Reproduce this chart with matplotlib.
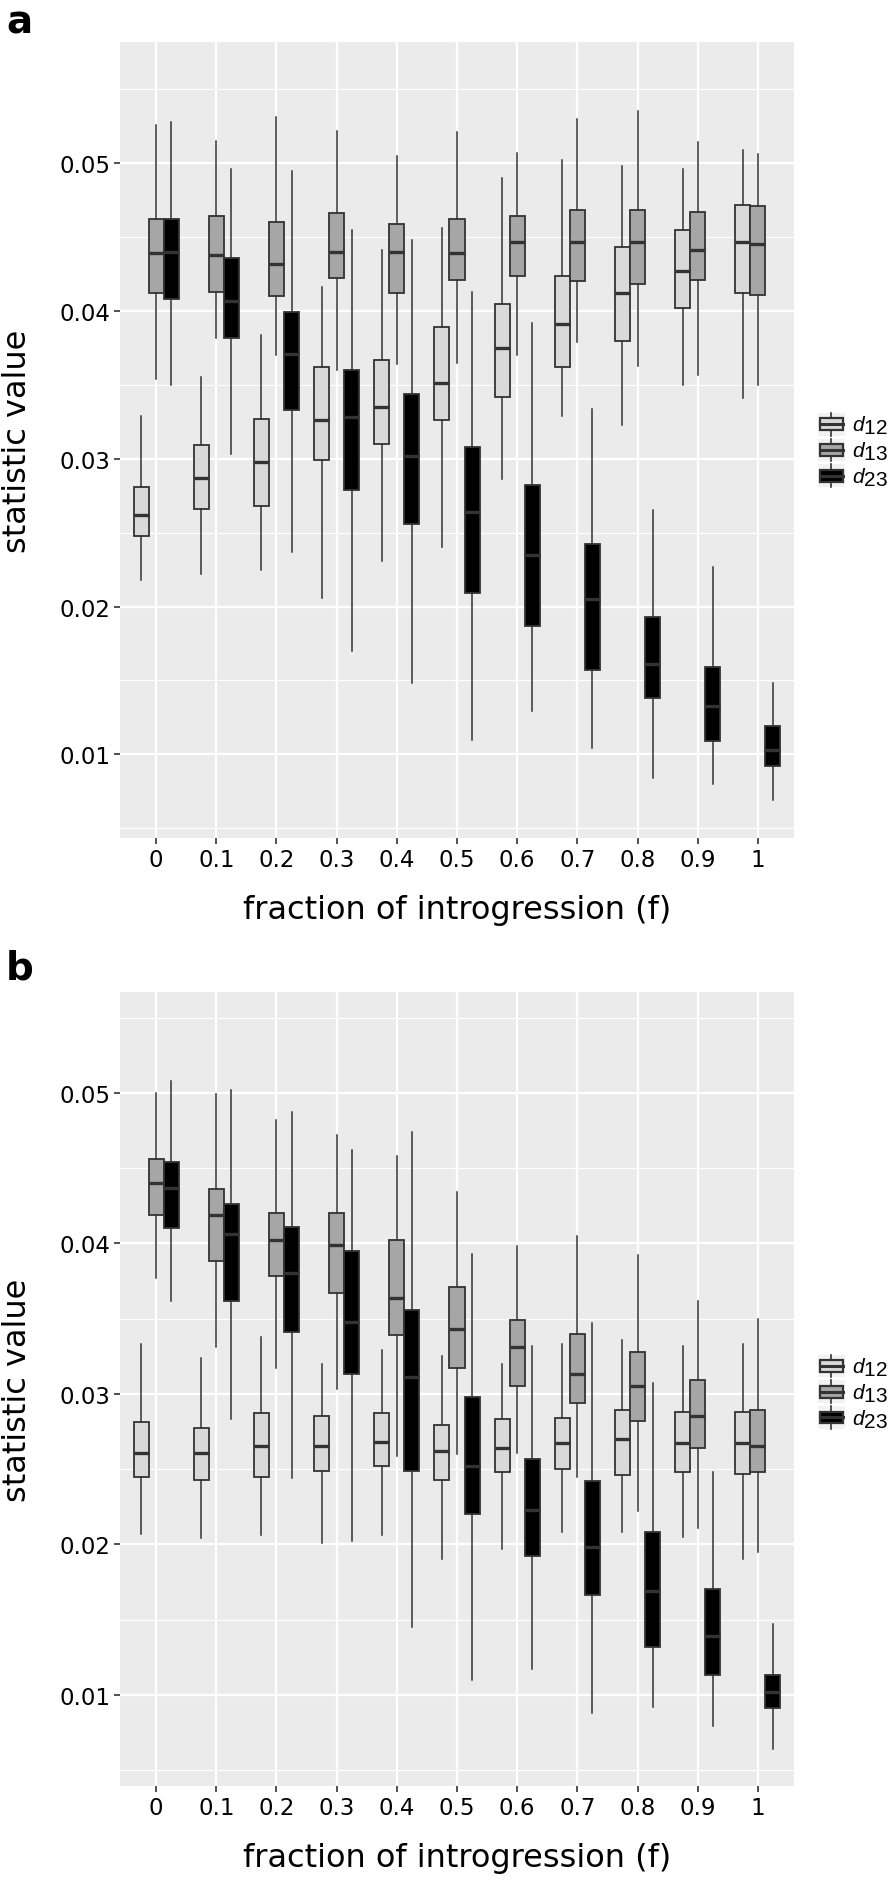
import matplotlib
matplotlib.use("Agg")
import matplotlib.pyplot as plt
import matplotlib._mathtext as mt
from matplotlib.legend_handler import HandlerBase
from matplotlib.patches import Patch, Rectangle
from matplotlib.lines import Line2D

# subscrito do mesmo tamanho da letra, como no plotmath do ggplot
mt.SHRINK_FACTOR = 1.0
plt.rcParams["mathtext.fontset"] = "custom"
plt.rcParams["mathtext.it"] = "Liberation Sans:italic"
plt.rcParams["mathtext.rm"] = "Liberation Sans"

# frações de introgressão (eixo x)
fracoes = ["0", "0.1", "0.2", "0.3", "0.4", "0.5", "0.6", "0.7", "0.8", "0.9", "1"]
series = ["d12", "d13", "d23"]
rotulos = [r"$\mathit{d_{12}}$", r"$\mathit{d_{13}}$", r"$\mathit{d_{23}}$"]
cores = ["#d9d9d9", "#a6a6a6", "#000000"]

# painel a
a_d12_lo = [0.0218, 0.0222, 0.0225, 0.0206, 0.0231, 0.0240, 0.0286, 0.0329, 0.0323, 0.0350, 0.0341]
a_d12_q1 = [0.0248, 0.0266, 0.0268, 0.0299, 0.0310, 0.0326, 0.0342, 0.0362, 0.0380, 0.0402, 0.0412]
a_d12_med = [0.0262, 0.0287, 0.0298, 0.0326, 0.0335, 0.0351, 0.0375, 0.0391, 0.0412, 0.0427, 0.0447]
a_d12_q3 = [0.0281, 0.0309, 0.0327, 0.0362, 0.0367, 0.0389, 0.0405, 0.0424, 0.0443, 0.0455, 0.0472]
a_d12_hi = [0.0329, 0.0355, 0.0384, 0.0416, 0.0441, 0.0456, 0.0490, 0.0502, 0.0498, 0.0496, 0.0509]

a_d13_lo = [0.0354, 0.0382, 0.0370, 0.0360, 0.0364, 0.0365, 0.0370, 0.0379, 0.0363, 0.0357, 0.0350]
a_d13_q1 = [0.0412, 0.0413, 0.0410, 0.0422, 0.0412, 0.0421, 0.0424, 0.0420, 0.0418, 0.0421, 0.0411]
a_d13_med = [0.0439, 0.0438, 0.0432, 0.0440, 0.0440, 0.0439, 0.0447, 0.0447, 0.0447, 0.0441, 0.0445]
a_d13_q3 = [0.0462, 0.0464, 0.0460, 0.0466, 0.0459, 0.0462, 0.0464, 0.0468, 0.0468, 0.0467, 0.0471]
a_d13_hi = [0.0526, 0.0515, 0.0531, 0.0522, 0.0505, 0.0521, 0.0507, 0.0530, 0.0535, 0.0514, 0.0506]

a_d23_lo = [0.0350, 0.0303, 0.0237, 0.0170, 0.0148, 0.0110, 0.0129, 0.0104, 0.0084, 0.0080, 0.0069]
a_d23_q1 = [0.0408, 0.0382, 0.0333, 0.0279, 0.0256, 0.0209, 0.0187, 0.0157, 0.0138, 0.0109, 0.0092]
a_d23_med = [0.0440, 0.0407, 0.0371, 0.0328, 0.0302, 0.0264, 0.0235, 0.0205, 0.0161, 0.0133, 0.0103]
a_d23_q3 = [0.0462, 0.0436, 0.0399, 0.0360, 0.0344, 0.0308, 0.0282, 0.0242, 0.0193, 0.0159, 0.0119]
a_d23_hi = [0.0528, 0.0496, 0.0495, 0.0455, 0.0448, 0.0413, 0.0392, 0.0334, 0.0265, 0.0227, 0.0148]

# painel b
b_d12_lo = [0.0207, 0.0204, 0.0206, 0.0201, 0.0206, 0.0190, 0.0197, 0.0208, 0.0208, 0.0205, 0.0190]
b_d12_q1 = [0.0245, 0.0243, 0.0245, 0.0249, 0.0252, 0.0243, 0.0248, 0.0250, 0.0246, 0.0248, 0.0247]
b_d12_med = [0.0261, 0.0261, 0.0265, 0.0265, 0.0268, 0.0262, 0.0264, 0.0267, 0.0270, 0.0267, 0.0267]
b_d12_q3 = [0.0281, 0.0277, 0.0287, 0.0285, 0.0287, 0.0279, 0.0283, 0.0284, 0.0289, 0.0288, 0.0288]
b_d12_hi = [0.0333, 0.0324, 0.0338, 0.0320, 0.0329, 0.0325, 0.0320, 0.0333, 0.0336, 0.0332, 0.0333]

b_d13_lo = [0.0377, 0.0331, 0.0317, 0.0303, 0.0259, 0.0260, 0.0261, 0.0245, 0.0222, 0.0211, 0.0195]
b_d13_q1 = [0.0419, 0.0388, 0.0378, 0.0367, 0.0339, 0.0317, 0.0305, 0.0294, 0.0282, 0.0264, 0.0248]
b_d13_med = [0.0440, 0.0419, 0.0402, 0.0399, 0.0364, 0.0343, 0.0331, 0.0313, 0.0305, 0.0285, 0.0265]
b_d13_q3 = [0.0456, 0.0436, 0.0420, 0.0420, 0.0402, 0.0371, 0.0349, 0.0340, 0.0328, 0.0309, 0.0289]
b_d13_hi = [0.0500, 0.0499, 0.0482, 0.0472, 0.0458, 0.0434, 0.0398, 0.0405, 0.0392, 0.0362, 0.0350]

b_d23_lo = [0.0362, 0.0283, 0.0244, 0.0202, 0.0145, 0.0110, 0.0117, 0.0088, 0.0092, 0.0079, 0.0064]
b_d23_q1 = [0.0410, 0.0362, 0.0341, 0.0313, 0.0249, 0.0220, 0.0192, 0.0166, 0.0132, 0.0113, 0.0091]
b_d23_med = [0.0437, 0.0406, 0.0380, 0.0348, 0.0311, 0.0252, 0.0223, 0.0198, 0.0169, 0.0139, 0.0102]
b_d23_q3 = [0.0454, 0.0426, 0.0411, 0.0395, 0.0356, 0.0298, 0.0257, 0.0242, 0.0208, 0.0170, 0.0113]
b_d23_hi = [0.0508, 0.0502, 0.0487, 0.0462, 0.0474, 0.0393, 0.0332, 0.0347, 0.0307, 0.0248, 0.0147]

yticks = [0.01, 0.02, 0.03, 0.04, 0.05]
ytick_labels = ["0.01", "0.02", "0.03", "0.04", "0.05"]
ylim_a = (0.00434, 0.0582)
ylim_b = (0.00394, 0.0567)

painel_a = [
    (a_d12_lo, a_d12_q1, a_d12_med, a_d12_q3, a_d12_hi),
    (a_d13_lo, a_d13_q1, a_d13_med, a_d13_q3, a_d13_hi),
    (a_d23_lo, a_d23_q1, a_d23_med, a_d23_q3, a_d23_hi),
]
painel_b = [
    (b_d12_lo, b_d12_q1, b_d12_med, b_d12_q3, b_d12_hi),
    (b_d13_lo, b_d13_q1, b_d13_med, b_d13_q3, b_d13_hi),
    (b_d23_lo, b_d23_q1, b_d23_med, b_d23_q3, b_d23_hi),
]

CINZA_LINHA = "#333333"
FUNDO = "#ebebeb"


class HandlerCaixa(HandlerBase):
    # desenha uma caixinha de boxplot na legenda, estilo ggplot
    def create_artists(self, legend, orig_handle, xdescent, ydescent, width, height, fontsize, trans):
        fundo = Rectangle((-xdescent, -ydescent), width, height, facecolor="#f2f2f2",
                          edgecolor="none", transform=trans)
        cx = -xdescent + width / 2
        bw = width * 0.84
        bh = height * 0.52
        y0 = -ydescent + (height - bh) / 2
        caixa = Rectangle((cx - bw / 2, y0), bw, bh, facecolor=orig_handle.get_facecolor(),
                          edgecolor=CINZA_LINHA, linewidth=1.6, transform=trans)
        mediana = Line2D([cx - bw / 2, cx + bw / 2], [y0 + bh / 2, y0 + bh / 2],
                         color=CINZA_LINHA, linewidth=2.2, transform=trans)
        bigode1 = Line2D([cx, cx], [-ydescent, y0], color=CINZA_LINHA,
                         linewidth=1.2, transform=trans)
        bigode2 = Line2D([cx, cx], [y0 + bh, -ydescent + height], color=CINZA_LINHA,
                         linewidth=1.2, transform=trans)
        return [fundo, caixa, mediana, bigode1, bigode2]


def desenhar_painel(ax, dados, ylim, y_legenda):
    ax.set_facecolor(FUNDO)
    n = len(fracoes)
    largura = 0.25
    for k, (lo, q1, med, q3, hi) in enumerate(dados):
        stats = []
        for i in range(n):
            stats.append({"whislo": lo[i], "q1": q1[i], "med": med[i], "q3": q3[i],
                          "whishi": hi[i], "fliers": []})
        posicoes = [i + 1 + (k - 1) * largura for i in range(n)]
        ax.bxp(stats, positions=posicoes, widths=largura, patch_artist=True,
               showcaps=False, showfliers=False, manage_ticks=False,
               boxprops=dict(facecolor=cores[k], edgecolor=CINZA_LINHA, linewidth=1.3),
               medianprops=dict(color=CINZA_LINHA, linewidth=2.4, solid_capstyle="butt"),
               whiskerprops=dict(color=CINZA_LINHA, linewidth=1.1),
               zorder=3)

    ax.set_xlim(0.4, n + 0.6)
    ax.set_ylim(*ylim)
    ax.set_xticks(range(1, n + 1))
    ax.set_xticklabels(fracoes)
    ax.set_yticks(yticks)
    ax.set_yticklabels(ytick_labels)
    ax.set_yticks([0.005, 0.015, 0.025, 0.035, 0.045, 0.055], minor=True)
    ax.grid(True, which="major", color="white", linewidth=1.6, zorder=0)
    ax.grid(True, which="minor", axis="y", color="white", linewidth=0.8, zorder=0)
    ax.set_axisbelow(True)
    for s in ax.spines.values():
        s.set_visible(False)
    ax.tick_params(axis="both", which="major", length=4, width=1.2, color=CINZA_LINHA,
                   labelsize=16.5, labelcolor="black", pad=3)
    ax.tick_params(axis="both", which="minor", length=0)
    ax.set_xlabel("fraction of introgression (f)", fontsize=23, labelpad=17)
    ax.set_ylabel("statistic value", fontsize=23, labelpad=19)

    handles = [Patch(facecolor=c) for c in cores]
    ax.legend(handles, rotulos, handler_map={Patch: HandlerCaixa()}, loc="center left",
              bbox_to_anchor=(1.035, y_legenda), frameon=False, fontsize=15,
              handlelength=1.3, handleheight=1.3, handletextpad=0.35,
              labelspacing=0.1, borderaxespad=0, borderpad=0)


fig = plt.figure(figsize=(8.94, 18.81), dpi=100)
W, H = 894, 1881
ax_a = fig.add_axes([120 / W, 1 - 839 / H, 674 / W, 796 / H])
ax_b = fig.add_axes([120 / W, 1 - 1787 / H, 674 / W, 794 / H])

desenhar_painel(ax_a, painel_a, ylim_a, 0.487)
desenhar_painel(ax_b, painel_b, ylim_b, 0.496)

fig.text(6 / W, 1 - 4 / H, "a", fontsize=28, fontweight="bold", va="top", ha="left")
fig.text(6 / W, 1 - 950 / H, "b", fontsize=28, fontweight="bold", va="top", ha="left")

fig.savefig("out.png", dpi=100)
